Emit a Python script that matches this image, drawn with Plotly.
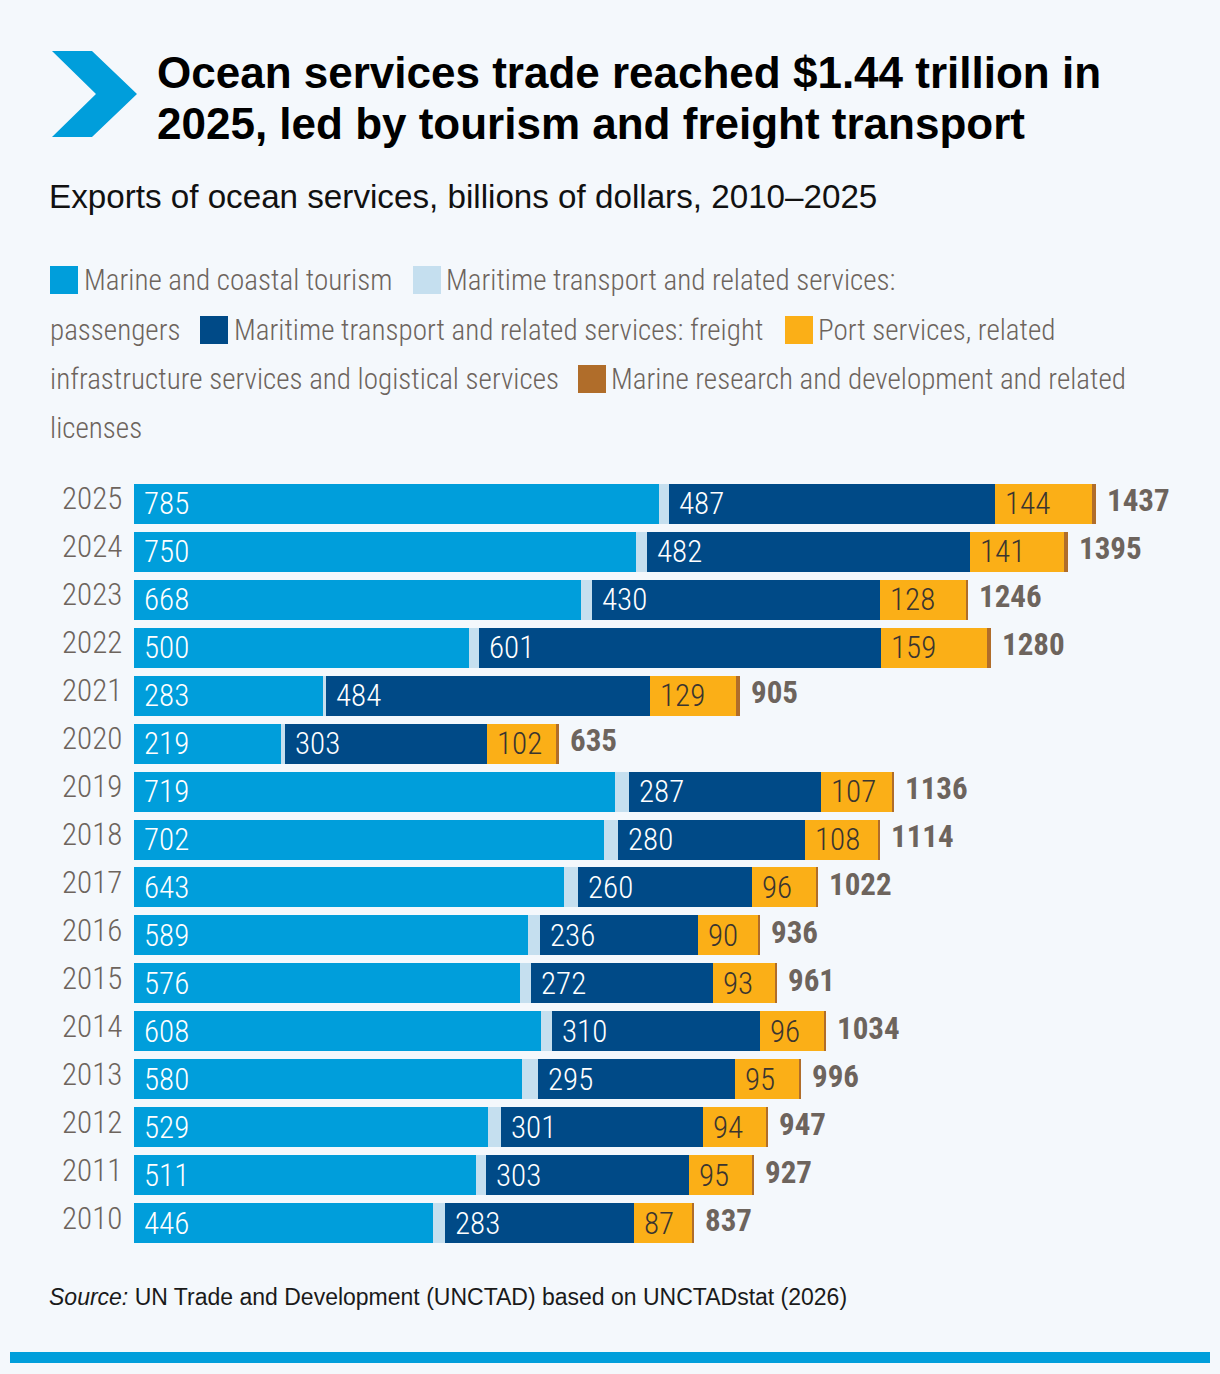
import plotly.graph_objects as go

# ---------------- data ----------------
years = ["2010", "2011", "2012", "2013", "2014", "2015", "2016", "2017",
         "2018", "2019", "2020", "2021", "2022", "2023", "2024", "2025"]
tourism = [446, 511, 529, 580, 608, 576, 589, 643, 702, 719, 219, 283, 500, 668, 750, 785]
passengers = [18, 15, 20, 23, 17, 17, 18, 20, 21, 20, 6, 4, 15, 17, 17, 15]
freight = [283, 303, 301, 295, 310, 272, 236, 260, 280, 287, 303, 484, 601, 430, 482, 487]
port = [87, 95, 94, 95, 96, 93, 90, 96, 108, 107, 102, 129, 159, 128, 141, 144]
research = [3, 3, 3, 3, 3, 3, 3, 3, 3, 3, 5, 5, 5, 3, 5, 6]
totals = [837, 927, 947, 996, 1034, 961, 936, 1022, 1114, 1136, 635, 905, 1280, 1246, 1395, 1437]

series_names = [
    "Marine and coastal tourism",
    "Maritime transport and related services: passengers",
    "Maritime transport and related services: freight",
    "Port services, related infrastructure services and logistical services",
    "Marine research and development and related licenses",
]
series_values = [tourism, passengers, freight, port, research]

title_lines = ["Ocean services trade reached $1.44 trillion in",
               "2025, led by tourism and freight transport"]
subtitle = "Exports of ocean services, billions of dollars, 2010\u20132025"
source_text = "<i>Source:</i> UN Trade and Development (UNCTAD) based on UNCTADstat (2026)"

# ---------------- style ----------------
colors = ["#009EDB", "#C5DFEF", "#004A87", "#FBAF17", "#B06D2A"]
BG = "#F4F8FC"
GREY = "#6D645D"
NARROW = "Liberation Sans Narrow, Arial Narrow, Roboto Condensed, sans-serif"
SANS = "Liberation Sans, Arial, Helvetica, sans-serif"

W, H = 1220, 1374
ML, MR, MT, MB = 134, 40, 480, 127
PW = W - ML - MR
PH = H - MT - MB
PX_PER_UNIT = 0.6693
XMAX = PW / PX_PER_UNIT


def px_x(x):
    return (x - ML) / PW


def px_y(y):
    return (H - MB - y) / PH


fig = go.Figure()
for name, vals, col in zip(series_names, series_values, colors):
    fig.add_trace(go.Bar(
        y=years, x=vals, name=name, orientation="h",
        marker=dict(color=col, line=dict(width=0)),
        hoverinfo="skip", showlegend=False,
    ))

annotations = []
# in-bar labels, totals and year labels (y given as category index)
for i, yr in enumerate(years):
    t, p, f, po, r = tourism[i], passengers[i], freight[i], port[i], research[i]
    segs = [(0, t, "white"), (t + p, f, "white"), (t + p + f, po, "#3A3530")]
    for start, val, col in segs:
        annotations.append(dict(
            x=start, y=i, xref="x", yref="y", text=str(val), showarrow=False,
            xanchor="left", yanchor="middle", xshift=8,
            font=dict(family=NARROW, size=31, color=col, weight=300)))
    end = t + p + f + po + r
    annotations.append(dict(
        x=end, y=i, xref="x", yref="y", text="<b>%d</b>" % totals[i], showarrow=False,
        xanchor="left", yanchor="middle", xshift=9, yshift=3,
        font=dict(family=NARROW, size=31, color=GREY)))
    annotations.append(dict(
        x=0, y=i, xref="x", yref="y", text=yr, showarrow=False,
        xanchor="right", yanchor="middle", xshift=-10, yshift=5,
        font=dict(family=NARROW, size=31, color=GREY, weight=300)))

# title
for k, yc in enumerate([72, 124]):
    annotations.append(dict(x=px_x(155), y=px_y(yc), xref="paper", yref="paper",
                            text="<b>%s</b>" % title_lines[k], showarrow=False,
                            xanchor="left", yanchor="middle",
                            font=dict(family=SANS, size=44, color="#000000")))
annotations.append(dict(x=px_x(47), y=px_y(197), xref="paper", yref="paper",
                        text=subtitle, showarrow=False,
                        xanchor="left", yanchor="middle",
                        font=dict(family=SANS, size=33.2, color="#111111")))
annotations.append(dict(x=px_x(47), y=px_y(1297), xref="paper", yref="paper",
                        text=source_text, showarrow=False,
                        xanchor="left", yanchor="middle",
                        font=dict(family=SANS, size=23, color="#1A1A1A")))

# legend (wrapped manually like the reference)
legend_rows = [
    (280, [("sq", 50, 0), ("tx", 82, "Marine and coastal tourism"),
           ("sq", 413, 1), ("tx", 444, "Maritime transport and related services:")]),
    (330, [("tx", 48, "passengers"), ("sq", 200, 2),
           ("tx", 232, "Maritime transport and related services: freight"),
           ("sq", 785, 3), ("tx", 816, "Port services, related")]),
    (379, [("tx", 48, "infrastructure services and logistical services"),
           ("sq", 578, 4), ("tx", 609, "Marine research and development and related")]),
    (428, [("tx", 48, "licenses")]),
]
shapes = []
for yc, items in legend_rows:
    for kind, x, content in items:
        if kind == "sq":
            shapes.append(dict(type="rect", xref="paper", yref="paper",
                               x0=px_x(x), x1=px_x(x + 28),
                               y0=px_y(yc - 14), y1=px_y(yc + 14),
                               fillcolor=colors[content], line=dict(width=0)))
        else:
            annotations.append(dict(x=px_x(x), y=px_y(yc), xref="paper", yref="paper",
                                    text=content, showarrow=False,
                                    xanchor="left", yanchor="middle",
                                    font=dict(family=NARROW, size=29.1, color=GREY,
                                              weight=300)))

# chevron icon
pts = [(52, 51), (92, 51), (137, 94), (92, 137), (52, 137), (96, 94)]
path = "M " + " L ".join("%f,%f" % (px_x(a), px_y(b)) for a, b in pts) + " Z"
shapes.append(dict(type="path", xref="paper", yref="paper", path=path,
                   fillcolor="#009EDB", line=dict(width=0)))
# bottom stripe
shapes.append(dict(type="rect", xref="paper", yref="paper",
                   x0=px_x(10), x1=px_x(1210), y0=px_y(1363), y1=px_y(1352),
                   fillcolor="#009EDB", line=dict(width=0)))

fig.update_layout(
    width=W, height=H, autosize=False,
    margin=dict(l=ML, r=MR, t=MT, b=MB, pad=0),
    barmode="stack", bargap=0.165,
    paper_bgcolor=BG, plot_bgcolor=BG,
    xaxis=dict(visible=False, range=[0, XMAX], fixedrange=True),
    yaxis=dict(type="category", categoryorder="array", categoryarray=years,
               range=[-0.5, 15.5], showgrid=False, zeroline=False, showline=False,
               ticks="", showticklabels=False),
    annotations=annotations, shapes=shapes,
)

fig.write_html("out.html")
